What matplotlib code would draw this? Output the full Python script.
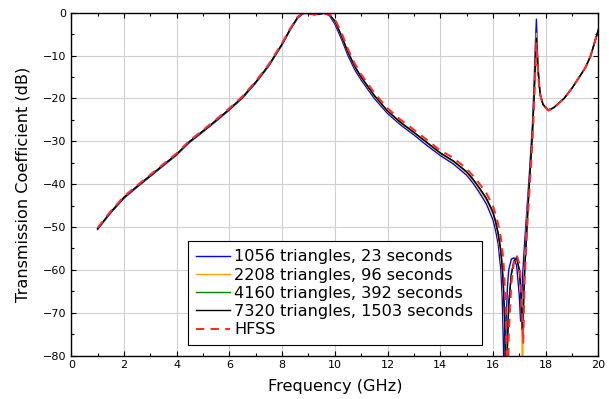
import numpy as np
import matplotlib
matplotlib.use("Agg")
import matplotlib.pyplot as plt

# frequency points (GHz)
freq = [1.0, 1.5, 2.0, 2.5, 3.0, 3.5, 4.0, 4.5, 5.0, 5.5, 6.0, 6.5, 7.0, 7.5,
        8.0, 8.3, 8.6, 8.8, 9.0, 9.2, 9.4, 9.6, 9.8, 10.0, 10.25, 10.5, 10.75,
        11.0, 11.5, 12.0, 12.5, 13.0, 13.5, 14.0, 14.5, 15.0, 15.25, 15.5, 15.75, 15.9,
        16.0, 16.1, 16.2, 16.3, 16.35, 16.4, 16.45, 16.5, 16.55, 16.6, 16.7, 16.8, 16.9,
        17.0, 17.05, 17.1, 17.12, 17.15, 17.2, 17.3, 17.4, 17.5, 17.56, 17.6,
        17.65, 17.7, 17.75, 17.8, 17.9, 18.1, 18.3, 18.7, 19.0, 19.5, 19.7, 20.0]

# transmission coefficient (dB) for each mesh / solver
s21_1056 = [-50.6, -46.7, -43.3, -40.7, -38.2, -35.7, -33.2, -30.2, -27.8, -25.3,
            -22.7, -19.9, -16.4, -12.4,
            -7.5, -4.1, -1.2, -0.2, -0.15, -0.45, -0.35, -0.1, -0.7, -2.6, -6.1, -10.0, -13.2,
            -15.7, -20.0, -23.5, -26.2, -28.5, -31.0, -33.3, -35.3, -37.9, -39.8, -42.1, -44.6, -46.8,
            -48.3, -50.8, -54.0, -60.0, -66.0, -78.0, -95.0, -72.0, -64.0, -60.0, -57.5, -57.2, -59.0,
            -66.0, -72.0, -66.0, -62.0, -59.0, -54.0, -45.0, -36.0, -26.0, -17.0, -9.0,
            -1.5, -11.0, -16.5, -19.2, -21.4, -22.7, -22.2, -20.0, -17.6, -12.9, -10.2, -4.0]
s21_2208 = [-50.4, -46.5, -43.1, -40.5, -38.0, -35.5, -33.0, -30.0, -27.6, -25.1,
            -22.5, -19.7, -16.2, -12.2,
            -7.3, -3.9, -1.0, -0.1, -0.1, -0.4, -0.3, -0.05, -0.55, -2.1, -5.5, -9.4, -12.6,
            -15.2, -19.5, -23.1, -25.8, -28.1, -30.5, -32.9, -34.8, -37.4, -39.2, -41.4, -43.7, -45.7,
            -47.0, -49.3, -52.3, -56.8, -60.5, -66.0, -75.0, -95.0, -77.0, -68.0, -60.5, -57.8, -57.3,
            -60.5, -65.0, -73.0, -95.0, -69.0, -59.0, -47.0, -38.0, -28.0, -20.0, -12.5,
            -4.8, -11.5, -16.5, -19.2, -21.4, -22.7, -22.2, -20.0, -17.6, -12.9, -10.2, -4.0]
s21_4160 = [-50.4, -46.5, -43.1, -40.5, -38.0, -35.5, -33.0, -30.0, -27.6, -25.1,
            -22.5, -19.7, -16.2, -12.2,
            -7.3, -3.9, -1.0, -0.1, -0.1, -0.4, -0.3, -0.05, -0.5, -1.9, -5.3, -9.2, -12.4,
            -15.0, -19.3, -22.9, -25.6, -27.9, -30.3, -32.7, -34.6, -37.1, -38.9, -41.0, -43.3, -45.2,
            -46.5, -48.7, -51.5, -55.5, -59.0, -64.0, -72.0, -95.0, -78.0, -68.0, -61.0, -58.0, -57.1,
            -60.0, -64.0, -71.0, -74.0, -70.0, -61.0, -49.0, -38.0, -28.0, -20.0, -13.0,
            -5.9, -12.0, -16.5, -19.2, -21.4, -22.7, -22.2, -20.0, -17.6, -12.9, -10.2, -4.0]
s21_7320 = [-50.4, -46.5, -43.1, -40.5, -38.0, -35.5, -33.0, -30.0, -27.6, -25.1,
            -22.5, -19.7, -16.2, -12.2,
            -7.3, -3.9, -1.0, -0.1, -0.1, -0.4, -0.3, -0.05, -0.5, -1.9, -5.3, -9.2, -12.4,
            -15.0, -19.3, -22.9, -25.6, -27.9, -30.3, -32.7, -34.6, -37.1, -38.9, -41.0, -43.3, -45.2,
            -46.5, -48.7, -51.5, -55.5, -59.0, -64.0, -72.0, -95.0, -78.0, -68.0, -61.0, -58.0, -57.1,
            -60.0, -64.0, -71.0, -74.0, -70.0, -61.0, -49.0, -38.0, -28.0, -20.0, -13.0,
            -6.0, -12.0, -16.5, -19.2, -21.4, -22.7, -22.2, -20.0, -17.6, -12.9, -10.2, -4.0]
s21_hfss = [-50.2, -46.3, -42.9, -40.3, -37.8, -35.3, -32.8, -29.8, -27.4, -24.9,
            -22.3, -19.5, -16.0, -12.0,
            -7.1, -3.8, -0.9, -0.05, -0.05, -0.35, -0.25, -0.05, -0.4, -1.5, -4.6, -8.5, -11.8,
            -14.4, -18.7, -22.3, -25.0, -27.3, -29.7, -32.1, -33.9, -36.4, -38.1, -40.0, -42.1, -43.9,
            -45.1, -47.0, -49.4, -52.5, -55.0, -58.0, -64.0, -72.0, -95.0, -75.0, -63.0, -58.0, -56.6,
            -58.5, -62.0, -68.0, -72.0, -77.0, -63.0, -50.0, -40.0, -30.0, -22.0, -15.0,
            -7.1, -12.5, -16.8, -19.3, -21.5, -22.8, -22.3, -20.0, -17.6, -12.9, -10.2, -4.0]

labels = ['1056 triangles, 23 seconds', '2208 triangles, 96 seconds',
          '4160 triangles, 392 seconds', '7320 triangles, 1503 seconds', 'HFSS']

fig = plt.figure(figsize=(6.09, 3.99), dpi=100)
ax = fig.add_axes([0.117, 0.109, 0.8655, 0.859])

ax.plot(freq, s21_1056, color='#0000ff', lw=1.0, label=labels[0])
ax.plot(freq, s21_2208, color='#ffa500', lw=1.0, label=labels[1])
ax.plot(freq, s21_4160, color='#008000', lw=1.0, label=labels[2])
ax.plot(freq, s21_7320, color='black', lw=1.0, label=labels[3])
ax.plot(freq, s21_hfss, color='#ff2a2a', lw=1.5, ls=(0, (4, 3)), label=labels[4])

ax.set_xlim(0, 20)
ax.set_ylim(-80, 0)
ax.set_xticks(np.arange(0, 21, 2))
ax.set_xticks(np.arange(1, 20, 2), minor=True)
ax.set_yticks(np.arange(-80, 1, 10))
ax.set_yticks(np.arange(-75, 0, 10), minor=True)
ax.set_yticklabels(['\u221280', '\u221270', '\u221260', '\u221250', '\u221240',
                    '\u221230', '\u221220', '\u221210', '0'])
ax.tick_params(which='both', direction='in', top=True, right=True,
               labelsize=8, width=0.8)
ax.tick_params(which='major', length=3.5)
ax.tick_params(which='minor', length=2.5)
ax.grid(True, which='major', color='#d0d0d0', lw=0.8)
for sp in ax.spines.values():
    sp.set_linewidth(1.0)

ax.set_xlabel('Frequency (GHz)', fontsize=11.6, labelpad=6)
ax.set_ylabel('Transmission Coefficient (dB)', fontsize=11.6, labelpad=9)

leg = ax.legend(loc='lower center', bbox_to_anchor=(0.5, 0.03), borderaxespad=0,
                fontsize=11.6, fancybox=False, framealpha=1, edgecolor='black',
                labelspacing=0.2, handlelength=2.1, handletextpad=0.28,
                borderpad=0.5)
leg.get_frame().set_linewidth(0.8)

fig.savefig('out.png', dpi=100)
